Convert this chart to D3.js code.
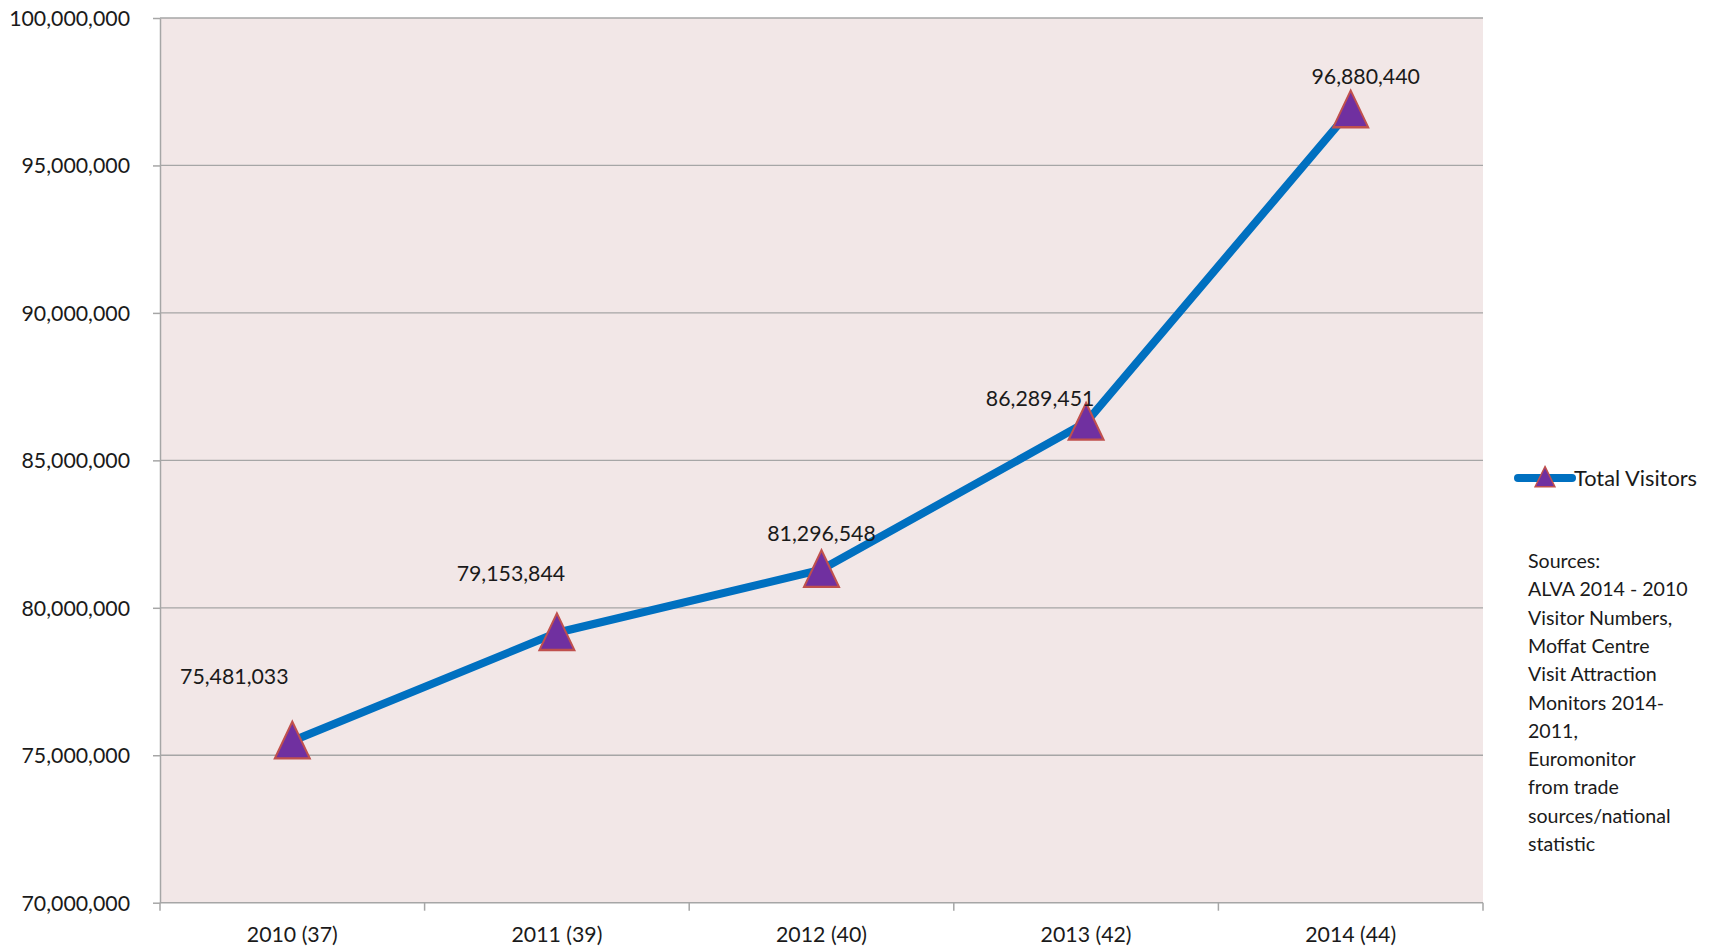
<!DOCTYPE html>
<html lang="en">
<head>
    <meta charset="UTF-8">
    <title>Total Visitors 2010-2014</title>
    <script src="https://cdnjs.cloudflare.com/ajax/libs/d3/7.8.5/d3.min.js"></script>
    <style>
        body { margin: 0; background: #fff; }
        text { font-family: Lato, "Open Sans", sans-serif; fill: #1a1a1a; }
        .grid line { stroke: #a6a6a6; stroke-width: 1.3px; }
        .axis path, .axis line { stroke: #a6a6a6; stroke-width: 1.5px; }
    </style>
</head>
<body>
    <svg width="1723" height="952"></svg>
    <script>
        // chart data
        const categories = ["2010 (37)", "2011 (39)", "2012 (40)", "2013 (42)", "2014 (44)"];
        const totalVisitors = [75481033, 79153844, 81296548, 86289451, 96880440];
        const yTicks = [70000000, 75000000, 80000000, 85000000, 90000000, 95000000, 100000000];
        const sourceLines = ["Sources:", "ALVA 2014 - 2010", "Visitor Numbers,", "Moffat Centre",
            "Visit Attraction", "Monitors 2014-", "2011,", "Euromonitor", "from trade",
            "sources/national", "statistic"];
        // hand-placed data label nudges (as in the original)
        const labelNudge = [[-58, -65], [-46, -59], [0, -36], [-46, -24], [15, -33]];

        const svg = d3.select("svg");
        const margin = {left: 160, top: 18, right: 1483, bottom: 902.7};

        const x = d3.scaleBand()
            .domain(categories)
            .range([margin.left, margin.right]);

        const y = d3.scaleLinear()
            .domain([70000000, 100000000])
            .range([margin.bottom, margin.top]);

        const fmt = d3.format(",");
        const fontSize = "21.3px";

        // plot area background
        svg.append("rect")
            .attr("x", margin.left).attr("y", margin.top)
            .attr("width", margin.right - margin.left)
            .attr("height", margin.bottom - margin.top)
            .attr("fill", "#f2e7e7");

        // gridlines
        svg.append("g").attr("class", "grid")
            .selectAll("line")
            .data(yTicks.slice(1))
            .enter().append("line")
            .attr("x1", margin.left).attr("x2", margin.right)
            .attr("y1", d => y(d)).attr("y2", d => y(d));

        // y axis
        const yAxis = svg.append("g").attr("class", "axis")
            .attr("transform", `translate(${margin.left},0)`)
            .call(d3.axisLeft(y).tickValues(yTicks).tickFormat(fmt).tickSize(7).tickSizeOuter(0).tickPadding(23));
        yAxis.selectAll("text").style("font-size", fontSize).attr("dy", "0.35em");

        // x axis with ticks between categories
        const xAxis = svg.append("g").attr("class", "axis")
            .attr("transform", `translate(0,${margin.bottom})`);
        xAxis.append("line")
            .attr("x1", margin.left).attr("x2", margin.right);
        const bounds = d3.range(categories.length + 1).map(i => margin.left + i * x.step());
        xAxis.selectAll(".tk")
            .data(bounds)
            .enter().append("line")
            .attr("x1", d => d).attr("x2", d => d)
            .attr("y1", 0).attr("y2", 8);
        xAxis.selectAll(".lbl")
            .data(categories)
            .enter().append("text")
            .attr("x", d => x(d) + x.bandwidth() / 2)
            .attr("y", 39)
            .attr("text-anchor", "middle")
            .style("font-size", fontSize)
            .text(d => d);

        // line
        const line = d3.line()
            .x((d, i) => x(categories[i]) + x.bandwidth() / 2)
            .y(d => y(d));

        svg.append("path")
            .datum(totalVisitors)
            .attr("fill", "none")
            .attr("stroke", "#0070c0")
            .attr("stroke-width", 8)
            .attr("stroke-linejoin", "round")
            .attr("d", line);

        // triangle markers
        const tri = d3.symbol().type(d3.symbolTriangle).size(560);
        svg.selectAll(".marker")
            .data(totalVisitors)
            .enter().append("path")
            .attr("transform", (d, i) => `translate(${x(categories[i]) + x.bandwidth() / 2},${y(d) + 5}) scale(0.97,1.18)`)
            .attr("d", tri)
            .attr("fill", "#7030a0")
            .attr("stroke", "#c0504d")
            .attr("stroke-width", 2);

        // data labels
        svg.selectAll(".dlabel")
            .data(totalVisitors)
            .enter().append("text")
            .attr("x", (d, i) => x(categories[i]) + x.bandwidth() / 2 + labelNudge[i][0])
            .attr("y", (d, i) => y(d) + labelNudge[i][1])
            .attr("text-anchor", "middle")
            .attr("dy", "0.35em")
            .style("font-size", fontSize)
            .text(d => fmt(d));

        // legend
        const lg = svg.append("g").attr("transform", "translate(1518,478)");
        lg.append("line")
            .attr("x1", 0).attr("x2", 54)
            .attr("stroke", "#0070c0").attr("stroke-width", 8)
            .attr("stroke-linecap", "round");
        lg.append("path")
            .attr("transform", "translate(27,2) scale(0.55,0.65)")
            .attr("d", tri)
            .attr("fill", "#7030a0")
            .attr("stroke", "#c0504d")
            .attr("stroke-width", 2.5);
        lg.append("text")
            .attr("x", 56).attr("dy", "0.35em")
            .style("font-size", "21.8px")
            .text("Total Visitors");

        // sources note
        svg.append("g").selectAll("text")
            .data(sourceLines)
            .enter().append("text")
            .attr("x", 1528)
            .attr("y", (d, i) => 568 + i * 28.3)
            .style("font-size", "19.6px")
            .text(d => d);
    </script>
</body>
</html>
